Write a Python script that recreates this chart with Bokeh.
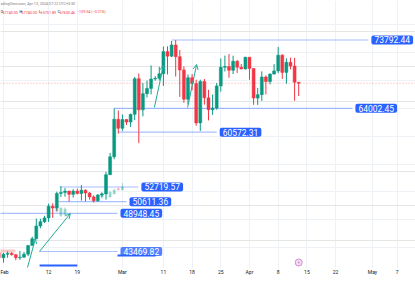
import pandas as pd
from bokeh.plotting import figure
from bokeh.models import ColumnDataSource, Range1d, FixedTicker, Grid, Label, Arrow, OpenHead, Span
from bokeh.embed import file_html
from bokeh.resources import INLINE

# ---------------- data ----------------
dates = pd.date_range("2024-01-31", "2024-04-13").strftime("%Y-%m-%d").tolist()
opens = [43300, 42570, 43080, 43200, 43010, 42580, 42660, 43090, 44340, 45290, 47130, 47750, 48290, 49960,
         49700, 51800, 51940, 52130, 51660, 52130, 51780, 52260, 51850, 51300, 50730, 51570, 51730, 54480,
         57040, 62430, 61130, 62390, 62030, 63130, 68250, 63780, 66100, 66850, 68200, 68310, 68950, 72130,
         71480, 73080, 71400, 69500, 65300, 68390, 67550, 61910, 67850, 65500, 63800, 64030, 67210, 69880,
         69990, 69450, 70740, 69890, 69650, 71330, 69700, 65460, 65960, 68490, 67840, 68900, 69360, 71620,
         69150, 70590, 70060, 67740]
highs = [43880, 43290, 43490, 43380, 43120, 43540, 43400, 44400, 45600, 48200, 48170, 48590, 50330, 50370,
         52040, 52820, 52570, 52190, 52400, 52490, 52980, 52370, 52000, 51530, 51700, 51950, 54900, 57590,
         64000, 63680, 63110, 62430, 63230, 68500, 69000, 67640, 67980, 70140, 68600, 69950, 72850, 72900,
         73650, 73780, 72360, 70000, 68850, 68920, 68100, 68100, 68200, 66650, 65970, 67620, 71150, 71560,
         71770, 71550, 70920, 70350, 71380, 71340, 69700, 66900, 69300, 68720, 69000, 70330, 72800, 71760,
         71170, 71260, 71230, 67740]
lows = [42280, 41880, 42580, 42880, 42220, 42260, 42570, 42790, 44330, 45250, 46800, 47560, 47700, 48300,
        49270, 51300, 51330, 50620, 51200, 51680, 50760, 50630, 50900, 50500, 50580, 51280, 50900, 54450,
        56700, 60360, 60780, 61600, 61320, 62300, 59000, 62850, 65560, 66000, 67960, 68000, 67200, 68850,
        71340, 68560, 65630, 64780, 64550, 66600, 61500, 60760, 64530, 62260, 63050, 63800, 66380, 69280,
        68380, 68900, 69070, 69580, 69550, 68100, 64500, 64490, 65060, 66000, 67440, 68840, 69040, 68210,
        67520, 69570, 65090, 65751.89]
closes = [42580, 43080, 43200, 43010, 42580, 42660, 43090, 44340, 45290, 47130, 47750, 48290, 49960, 49700,
          51800, 51940, 52130, 51660, 52130, 51780, 52260, 51850, 51300, 50730, 51570, 51730, 54480, 57040,
          62430, 61130, 62390, 62030, 63130, 68250, 63780, 66100, 66850, 68200, 68310, 68950, 72130, 71480,
          73080, 71400, 69500, 65300, 68390, 67550, 61910, 67850, 65500, 63800, 64030, 67210, 69880, 69990,
          69450, 70740, 69890, 69650, 71330, 69700, 65460, 65960, 68490, 67840, 68900, 69360, 71620, 69150,
          70590, 70060, 67740, 67600.46]

# faded "bars pattern" drawing
pat_days = [13, 14, 15, 24, 26, 27, 28, 29]
pat_open = [49800, 48600, 48700, 51200, 51300, 51700, 52500, 52300]
pat_close = [49200, 49700, 49600, 51800, 52000, 52300, 52300, 52800]
pat_high = [50000, 49900, 49800, 51900, 52200, 52500, 52700, 53300]
pat_low = [49100, 48400, 48500, 51000, 51100, 51600, 52200, 52200]

# horizontal levels (price, start day, label day)
lvl_price = [73792.44, 64002.45, 60572.31, 52719.57, 50611.36, 48948.45, 43469.82]
lvl_start = [41, 27, 28, 13.7, 13.4, -1.5, 8.8]
lvl_end = [89.0, 85.1, 52.0, 32.9, 30.0, 27.8, 27.8]
lvl_alpha = [1, 1, 1, 1, 1, 1, 0.8]

# trend arrows
arr_x0 = [5.85, 8.78, 36.8, 44.9]
arr_y0 = [41175, 43469.82, 64115, 64115]
arr_x1 = [7.8, 16.3, 39.0, 47.1]
arr_y1 = [45333, 48917, 70137, 70280]

tick_days = [0, 11, 18, 29, 39, 46, 53, 60, 67, 74, 81, 90, 96]
tick_labels = ["Feb", "12", "19", "Mar", "11", "18", "25", "Apr", "8", "15", "22", "May", "7"]

UP, DOWN = "#089981", "#f23645"
BLUE = "#2962ff"
TEAL = "#22ab94"

origin = pd.Timestamp("2024-02-01")
day = [(pd.Timestamp(d) - origin).days for d in dates]
colors = [UP if c >= o else DOWN for o, c in zip(opens, closes)]
src = ColumnDataSource(dict(x=day, o=opens, h=highs, l=lows, c=closes, col=colors))

p = figure(width=415, height=285, x_range=Range1d(-0.732, 100.49), y_range=Range1d(41032, 79455),
           output_backend="svg", toolbar_location=None, y_axis_location=None,
           min_border_left=0, min_border_right=0, min_border_top=0, min_border_bottom=17)
p.outline_line_color = None
p.background_fill_color = "white"

# grids
p.xgrid.ticker = FixedTicker(ticks=tick_days)
p.xgrid.grid_line_color = "#eef1f6"
p.add_layout(Grid(dimension=1, ticker=FixedTicker(ticks=list(range(40000, 80001, 4000))),
                  grid_line_color="#eef1f6"))

# x axis
ax = p.xaxis[0]
ax.ticker = FixedTicker(ticks=tick_days)
ax.major_label_overrides = {d: t for d, t in zip(tick_days, tick_labels)}
ax.axis_line_color = None
ax.major_tick_line_color = None
ax.minor_tick_line_color = None
ax.major_tick_out = 0
ax.major_tick_in = 0
ax.minor_tick_out = 0
ax.minor_tick_in = 0
ax.major_label_standoff = 0
ax.major_label_text_font_size = "5px"
ax.major_label_text_color = "#131722"
ax.major_label_text_font = "Roboto"

# pink rectangle
p.quad(left=[-1.0], right=[2.9], bottom=[43327], top=[43757], fill_color="#f4a9a3", fill_alpha=0.6,
       line_color=None)

# current price line
p.add_layout(Span(location=closes[-1], dimension="width", line_color=DOWN, line_alpha=0.45,
                  line_dash="1 2", line_width=1))

# levels
lsrc = ColumnDataSource(dict(x0=lvl_start, x1=lvl_end, y=lvl_price))
p.segment(x0="x0", y0="y", x1="x1", y1="y", source=lsrc, line_color=BLUE, line_alpha=0.4, line_width=1.2)

# faded pattern candles
pcol = [UP if c >= o else DOWN for o, c in zip(pat_open, pat_close)]
psrc = ColumnDataSource(dict(x=pat_days, o=pat_open, c=pat_close, h=pat_high, l=pat_low, col=pcol))
p.segment(x0="x", y0="l", x1="x", y1="h", source=psrc, line_color="col", line_alpha=0.3, line_width=1)
p.vbar(x="x", bottom="o", top="c", width=0.72, source=psrc, fill_color="col", fill_alpha=0.3,
       line_color=None)

# candles
p.segment(x0="x", y0="l", x1="x", y1="h", source=src, line_color="col", line_width=1)
p.vbar(x="x", bottom="o", top="c", width=0.72, source=src, fill_color="col", line_color="col",
       line_width=0.5)

# arrows
for xa, ya, xb, yb in zip(arr_x0, arr_y0, arr_x1, arr_y1):
    p.add_layout(Arrow(x_start=xa, y_start=ya, x_end=xb, y_end=yb, line_color=TEAL, line_width=1,
                       end=OpenHead(size=5, line_color=TEAL, line_width=1)))

# blue range bars
p.segment(x0=[27.8, 8.8], y0=[42896, 41462], x1=[37.1, 18.0], y1=[42896, 41462], line_color=BLUE,
          line_width=2)

# event marker
p.scatter(x=[72], y=[41892], size=7, fill_color="#f6dff4", line_color="#d38bd6", line_width=1)
p.scatter(x=[72], y=[41892], size=2, fill_color="#d38bd6", line_color=None)

# level labels
for pr, xe, al in zip(lvl_price, lvl_end, lvl_alpha):
    p.add_layout(Label(x=xe, y=pr, text=f"{pr:.2f}", text_align="left", text_baseline="middle",
                       text_color="white", text_font_size="8.5px", text_font="Roboto",
                       background_fill_color=BLUE, background_fill_alpha=al, border_radius=2,
                       padding=(3, 1), x_offset=3))

# header
xs = p.x_range.start
p.add_layout(Label(x=xs, y=78882, text="adingView.com, Apr 13, 2024 07:22 UTC+3:30", text_align="left",
                   text_baseline="middle", text_color="#787b86", text_font_size="3.7px", text_font="Roboto"))
segs = [("O", 0, "#131722"), ("67740.00", 1, DOWN), ("H", 10, "#131722"), ("67740.00", 11, DOWN),
        ("L", 20, "#131722"), ("65751.89", 21, DOWN), ("C", 30, "#131722"), ("67600.46", 31, DOWN),
        ("\u2212139.54 (\u22120.21%)", 40, DOWN)]
for t, idx, colr in segs:
    p.add_layout(Label(x=xs, y=77735, x_offset=idx * 1.91, text=t, text_align="left", text_baseline="middle",
                       text_color=colr, text_font_size="3.7px", text_font="Roboto"))

open("out.html", "w").write(file_html(p, INLINE))
